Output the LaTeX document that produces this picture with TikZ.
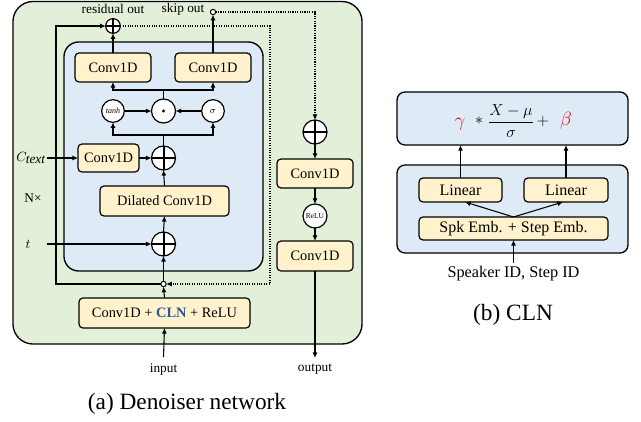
\documentclass[tikz,border=0pt]{standalone}
\usepackage{fontspec}
\setmainfont{Liberation Serif}
\usetikzlibrary{arrows.meta,calc}
\definecolor{bggreen}{HTML}{E2EFD9}
\definecolor{bgblue}{HTML}{DEEBF7}
\definecolor{boxyellow}{HTML}{FFF2CC}
\definecolor{clnblue}{HTML}{2F5597}
\begin{document}
\begin{tikzpicture}[x=0.75pt,y=-0.75pt,
  every node/.style={inner sep=0pt, outer sep=0pt},
  ybox/.style={draw, line width=0.9pt, fill=boxyellow, rounded corners=3pt, font=\fontsize{10.8}{12}\selectfont},
  lbox/.style={draw, line width=0.9pt, fill=boxyellow, rounded corners=3pt, font=\fontsize{12}{14}\selectfont},
  bbox/.style={draw, line width=1pt, fill=bgblue, rounded corners=6pt},
  arr/.style={-{Latex[length=4.2pt,width=3.8pt]}, line width=0.8pt},
  ln/.style={line width=0.8pt},
  sumbig/.style={circle, draw, line width=0.9pt, fill=white, minimum size=18pt,
    path picture={\draw[line width=1.5pt] (path picture bounding box.north) -- (path picture bounding box.south) (path picture bounding box.west) -- (path picture bounding box.east);}},
  sumsmall/.style={circle, draw, line width=0.9pt, fill=white, minimum size=11pt,
    path picture={\draw[line width=1.2pt] (path picture bounding box.north) -- (path picture bounding box.south) (path picture bounding box.west) -- (path picture bounding box.east);}},
  opc/.style={circle, draw, line width=0.9pt, fill=white, minimum size=18pt},
  junc/.style={circle, draw, line width=0.75pt, fill=white, minimum size=4pt},
  lab/.style={font=\fontsize{10}{12}\selectfont},
  captext/.style={font=\fontsize{17.5}{20}\selectfont}
]
\fill[white] (0,0) rectangle (641,421);
% backgrounds panel (a)
\draw[rounded corners=15pt, fill=bggreen, line width=1pt] (13,1.5) rectangle (362,344);
\draw[rounded corners=11pt, fill=bgblue, line width=1pt] (64,42) rectangle (263,271);

% nodes panel (a)
\node[sumsmall] (res) at (113,26) {};
\node[lab] (reslab) at (113,9) {residual out};
\node[lab] (sklab) at (183,9) {skip out};
\node[junc] (sk) at (213,12) {};

\node[ybox, minimum width=57pt, minimum height=21.75pt] (cl) at (113,67.5) {Conv1D};
\node[ybox, minimum width=57pt, minimum height=21.75pt] (cr) at (213,67.5) {Conv1D};

\node[opc, minimum size=17pt] (tanh) at (113,111) {\fontsize{6}{7}\selectfont\itshape tanh};
\node[opc] (dc) at (163.5,111) {};
\fill (dc.center) circle (1.3pt);
\node[opc, minimum size=17pt] (sig) at (213,111) {\fontsize{7}{8}\selectfont$\sigma$};

\node[sumbig] (s2) at (163.5,158) {};
\node[ybox, minimum width=45.75pt, minimum height=21pt] (cc) at (108.5,158) {Conv1D};
\node[lab, inner sep=1pt] (ctext) at (31,158) {$C_{\textit{text}}$};

\node[ybox, minimum width=96.75pt, minimum height=22.5pt] (dil) at (164.5,201) {Dilated Conv1D};
\node[lab] (nx) at (33,198) {N×};
\node[lab] (tl) at (28,244) {$t$};
\coordinate (tstart) at (47,244);
\node[sumbig] (s3) at (163.5,244) {};

\node[junc] (j) at (163.5,284) {};
\node[ybox, minimum width=128.25pt, minimum height=22.5pt] (cln) at (164.5,313) {Conv1D + \textcolor{clnblue}{\bfseries CLN} + ReLU};
\coordinate (inp) at (163.5,357);
\node[lab] (inlab) at (163.5,369) {input};

% right column
\node[sumbig] (rs) at (315,132) {};
\node[ybox, minimum width=57pt, minimum height=21.75pt] (rc1) at (315,173.5) {Conv1D};
\node[opc] (relu) at (315,216) {\fontsize{5.6}{6}\selectfont ReLU};
\node[ybox, minimum width=57pt, minimum height=22.5pt] (rc2) at (315,256) {Conv1D};
\coordinate (outp) at (315,358);
\node[lab] (outlab) at (315,369) {output};

% connectors panel (a)
\coordinate (b1) at (163.5,135);
\coordinate (b2) at (163.5,90);
\coordinate (lb) at (56,284);
\coordinate (lt) at (56,26);
\coordinate (rt) at (270,26);
\coordinate (rb) at (270,284);
\coordinate (sko) at (315,12);

\draw[arr] (inp) -- (cln.south);
\draw[arr] (cln.north) -- (j.south);
\draw[arr] (j.north) -- (s3.south);
\draw[arr] (tstart) -- (s3.west);
\draw[arr] (s3.north) -- (dil.south);
\draw[arr] (dil.north) -- (s2.south);
\draw[arr] (ctext.east) -- (cc.west);
\draw[arr] (cc.east) -- (s2.west);
\draw[ln] (s2.north) -- (b1);
\draw[arr] (b1) -| (tanh.south);
\draw[arr] (b1) -| (sig.south);
\draw[arr] (tanh.east) -- (dc.west);
\draw[arr] (sig.west) -- (dc.east);
\draw[ln] (dc.north) -- (b2);
\draw[arr] (b2) -| (cl.south);
\draw[arr] (b2) -| (cr.south);
\draw[arr] (cl.north) -- (res.south);
\draw[arr] (cr.north) -- (sk.south);
\draw[arr] (j.west) -- (lb) -- (lt) -- (res.west);
\draw[arr, densely dotted] (res.east) -- (rt) -- (rb) -- (j.east);
\draw[arr, densely dotted] (sk.east) -- (sko) -- (rs.north);
\draw[arr] (rs.south) -- (rc1.north);
\draw[arr] (rc1.south) -- (relu.north);
\draw[arr] (relu.south) -- (rc2.north);
\draw[arr] (rc2.south) -- (outp);

\node[captext] (capa) at (187,404) {(a) Denoiser network};

% panel (b)
\node[bbox, minimum width=173.25pt, minimum height=39.75pt] (fb) at (512.5,118.5) {};
\node[bbox, minimum width=173.25pt, minimum height=66pt] (bb) at (512.5,209) {};
\node (gam) at (460,124) {\fontsize{15}{17}\selectfont\textcolor{red}{$\gamma$}};
\node (star) at (479,121) {\fontsize{13}{15}\selectfont$*$};
\node (frac) at (511,121) {\fontsize{13}{15}\selectfont$\displaystyle\frac{X-\mu}{\sigma}$};
\node (plus) at (543,121) {\fontsize{13}{15}\selectfont$+$};
\node (bet) at (566,121) {\fontsize{15}{17}\selectfont\textcolor{red}{$\beta$}};

\node[lbox, minimum width=62.25pt, minimum height=18pt] (lin1) at (460.5,190) {Linear};
\node[lbox, minimum width=63pt, minimum height=18pt] (lin2) at (566,190) {Linear};
\node[lbox, minimum width=141.75pt, minimum height=17.25pt] (spk) at (513.5,228.5) {Spk Emb. + Step Emb.};
\coordinate (sidtop) at (513.5,263);
\node[font=\fontsize{12.2}{14}\selectfont] (sid) at (513.5,274) {Speaker ID, Step ID};

\draw[arr] (sidtop) -- (spk.south);
\draw[arr] (spk.north) -- ($(lin1.south)+(4.5,0)$);
\draw[arr] (spk.north) -- ($(lin2.south)+(-3,0)$);
\draw[arr] (lin1.north) -- (lin1.north |- fb.south);
\draw[arr] (lin2.north) -- (lin2.north |- fb.south);

\node[captext] (capb) at (513,315) {(b) CLN};
\end{tikzpicture}
\end{document}
